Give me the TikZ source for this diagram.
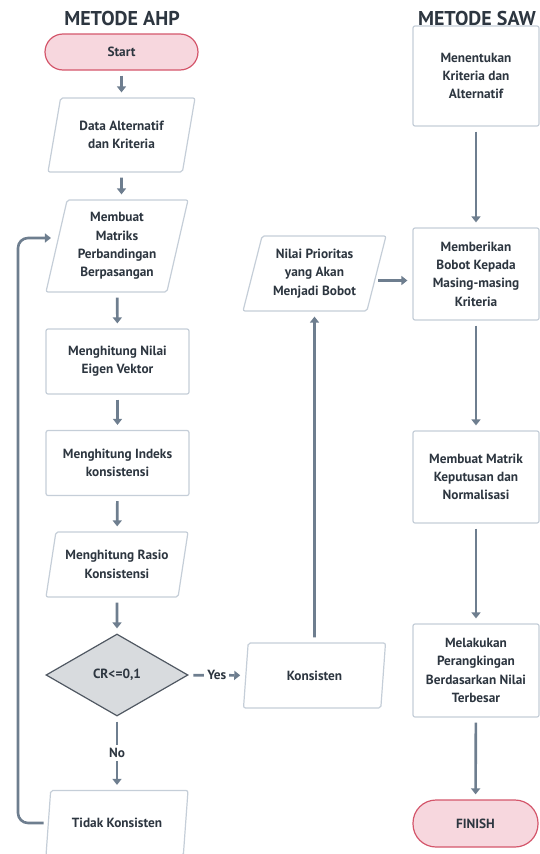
\documentclass[tikz,border=0pt]{standalone}
\usepackage{fontspec}
\setmainfont{PT Sans}
\usetikzlibrary{arrows.meta, shapes.geometric}
\definecolor{flowline}{RGB}{110,126,143}
\definecolor{boxline}{RGB}{197,206,216}
\definecolor{textdark}{RGB}{45,54,64}
\definecolor{termfill}{RGB}{247,215,222}
\definecolor{termline}{RGB}{212,86,107}
\definecolor{decfill}{RGB}{216,219,222}
\definecolor{decline}{RGB}{80,88,98}

\begin{document}
\begin{tikzpicture}[x=1pt, y=-1pt,
    every node/.style={font=\bfseries\fontsize{13.3}{18.3}\selectfont, text=textdark, align=center},
    title/.style={font=\bfseries\fontsize{20}{22}\selectfont, inner sep=0pt},
    procbox/.style={rectangle, draw=boxline, line width=1.2pt, rounded corners=2pt, fill=white, minimum width=143pt, minimum height=65pt},
    iobox/.style={trapezium, trapezium left angle=74, trapezium right angle=106, trapezium stretches body,
        draw=boxline, line width=1.2pt, rounded corners=2pt, fill=white, minimum width=142pt, minimum height=65pt},
    term/.style={rectangle, draw=termline, fill=termfill, line width=1.2pt},
    decision/.style={diamond, aspect=1.73, draw=decline, fill=decfill, line width=1.2pt, minimum width=142pt, minimum height=82pt},
    flow/.style={draw=flowline, line width=2.6pt, -{Triangle[width=9pt,length=6pt]}, shorten <=5pt, shorten >=5pt}]
    \useasboundingbox (0,0) rectangle (539,854);

    % titles
    \node[title] (ahp) at (122,18) {METODE AHP};
    \node[title] (saw) at (477,18) {METODE SAW};

    % AHP column
    \node[term, rounded corners=18pt, minimum width=153pt, minimum height=36pt] (start) at (121.5,52) {Start};
    \node[iobox, trapezium left angle=70, trapezium right angle=110, minimum width=147pt, minimum height=74pt] (data) at (121.5,135) {Data Alternatif\\dan Kriteria};
    \node[iobox, minimum height=92pt] (matriks) at (117,246) {Membuat\\Matriks\\Perbandingan\\Berpasangan};
    \node[procbox] (eigen) at (117.5,361.5) {Menghitung Nilai\\Eigen Vektor};
    \node[procbox] (indeks) at (117.5,463) {Menghitung Indeks\\konsistensi};
    \node[iobox] (rasio) at (117,564.5) {Menghitung Rasio\\Konsistensi};
    \node[decision] (cr) at (117,675) {CR<=0,1};
    \node[iobox] (tidak) at (117,823) {Tidak Konsisten};
    \coordinate (loopcorner) at (18,500);

    % middle column
    \node[iobox] (konsisten) at (314.5,675.5) {Konsisten};
    \node[iobox, trapezium left angle=71, trapezium right angle=109, minimum width=143pt, minimum height=75pt] (prioritas) at (314.5,273.5) {Nilai Prioritas\\yang Akan\\Menjadi Bobot};

    % SAW column
    \node[procbox, minimum width=126pt, minimum height=100pt] (tentukan) at (476,76) {Menentukan\\Kriteria dan\\Alternatif};
    \node[procbox, minimum width=126pt, minimum height=92pt] (bobot) at (476,274) {Memberikan\\Bobot Kepada\\Masing-masing\\Kriteria};
    \node[procbox, minimum width=126pt, minimum height=92pt] (keputusan) at (476,477) {Membuat Matrik\\Keputusan dan\\Normalisasi};
    \node[procbox, minimum width=126pt, minimum height=93pt] (ranking) at (476,670.5) {Melakukan\\Perangkingan\\Berdasarkan Nilai\\Terbesar};
    \node[term, rounded corners=23pt, minimum width=125pt, minimum height=47pt] (finish) at (475.5,823.5) {FINISH};

    % connectors
    \draw[flow] (start) -- (data);
    \draw[flow] (data) -- (data |- matriks.north);
    \draw[flow] (matriks) -- (eigen);
    \draw[flow] (eigen) -- (indeks);
    \draw[flow] (indeks) -- (rasio);
    \draw[flow] (rasio) -- (cr);
    \draw[flow] (cr) -- node[fill=white, inner sep=3pt] {Yes} (konsisten);
    \draw[flow] (cr) -- node[fill=white, inner sep=3pt] {No} (tidak);
    \draw[flow, rounded corners=10pt, shorten <=4pt] (tidak.west) -| (loopcorner) |- ([yshift=8pt]matriks.west);
    \draw[flow] (konsisten) -- (prioritas);
    \draw[flow, shorten <=1pt] ([yshift=-7pt]prioritas.east) -- ([yshift=-7pt]prioritas.east -| bobot.west);
    \draw[flow] (tentukan) -- (bobot);
    \draw[flow] (bobot) -- (keputusan);
    \draw[flow] (keputusan) -- (ranking);
    \draw[flow] (ranking) -- (finish);
\end{tikzpicture}
\end{document}
